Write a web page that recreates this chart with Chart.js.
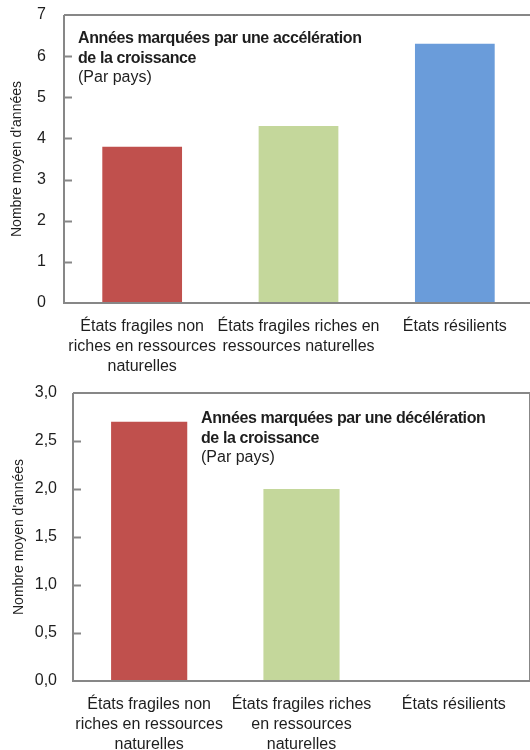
<!DOCTYPE html>
<html lang="fr">
<head>
<meta charset="utf-8">
<title>Accélération / décélération de la croissance</title>
<script src="https://cdn.jsdelivr.net/npm/chart.js@4/dist/chart.umd.min.js"></script>
<style>
  html, body { margin: 0; padding: 0; background: #fff; }
  body { width: 530px; height: 750px; overflow: hidden; position: relative; }
  .panel { position: absolute; left: 0; width: 540px; }
  #top { top: 0; height: 375px; }
  #bottom { top: 375px; height: 385px; }
</style>
</head>
<body>
<div class="panel" id="top"><canvas id="accelChart"></canvas></div>
<div class="panel" id="bottom"><canvas id="decelChart"></canvas></div>

<script>
// data
const accelCategories = [
  ['États fragiles non', 'riches en ressources', 'naturelles'],
  ['États fragiles riches en', 'ressources naturelles'],
  ['États résilients']
];
const decelCategories = [
  ['États fragiles non', 'riches en ressources', 'naturelles'],
  ['États fragiles riches', 'en ressources', 'naturelles'],
  ['États résilients']
];
const accelValues = [3.8, 4.3, 6.3];
const decelValues = [2.7, 2.0, 0];
const accelTitle = ['Années marquées par une accélération', 'de la croissance'];
const decelTitle = ['Années marquées par une décélération', 'de la croissance'];
const subTitle = '(Par pays)';
const yAxisTitle = "Nombre moyen d'années";
const accelRange = { max: 7, step: 1 };
const decelRange = { max: 3, step: 0.5 };

const barColors = ['#C0504D', '#C4D79B', '#6A9CDA'];
const axisGray = '#878787';
const textColor = '#1e1e1e';
const family = "'Liberation Sans', Arial, Helvetica, sans-serif";

// gray frame round the plot + short tick marks pointing inwards
const frameTicks = {
  id: 'frameTicks',
  afterDatasetsDraw(chart, args, opts) {
    const { ctx, chartArea: a } = chart;
    const y = chart.scales.y;
    ctx.save();
    ctx.strokeStyle = axisGray;
    ctx.lineWidth = 2;
    ctx.beginPath();
    ctx.moveTo(a.left, a.top);
    ctx.lineTo(a.left, a.bottom);
    ctx.lineTo(a.right, a.bottom);
    if (opts.right) ctx.lineTo(a.right, a.top); else ctx.moveTo(a.right, a.top);
    ctx.lineTo(a.left, a.top);
    ctx.stroke();
    y.ticks.forEach((t, i) => {
      if (i === 0 || i === y.ticks.length - 1) return;
      const py = Math.round(y.getPixelForValue(t.value)) + 0.5;
      ctx.beginPath();
      ctx.moveTo(a.left, py);
      ctx.lineTo(a.left + 8, py);
      ctx.stroke();
    });
    ctx.restore();
  }
};

// note written inside the plot area
const panelNote = {
  id: 'panelNote',
  afterDraw(chart, args, opts) {
    const { ctx, chartArea: a } = chart;
    ctx.save();
    ctx.fillStyle = textColor;
    ctx.textBaseline = 'alphabetic';
    ctx.textAlign = 'left';
    let y = a.top + opts.dy;
    ctx.font = 'bold 16px ' + family;
    ctx.letterSpacing = '-0.4px';
    opts.lines.forEach(l => { ctx.fillText(l, a.left + opts.dx, y); y += 19.5; });
    ctx.font = '16px ' + family;
    ctx.letterSpacing = '0px';
    ctx.fillText(opts.sub, a.left + opts.dx, y);
    ctx.restore();
  }
};

function noPad(s) {
  s.paddingTop = 0; s.paddingBottom = 0; s.paddingLeft = 0; s.paddingRight = 0;
}

function makeChart(id, labels, values, range, fmt, box, note) {
  return new Chart(document.getElementById(id), {
    type: 'bar',
    data: {
      labels: labels,
      datasets: [{
        data: values,
        backgroundColor: barColors,
        borderWidth: 0,
        categoryPercentage: 1,
        barPercentage: box.bar
      }]
    },
    options: {
      responsive: true,
      maintainAspectRatio: false,
      animation: false,
      layout: { padding: { top: box.top, right: box.right, left: 0, bottom: 0 } },
      plugins: {
        legend: { display: false },
        tooltip: { enabled: false },
        panelNote: note,
        frameTicks: { right: box.frameRight }
      },
      scales: {
        x: {
          grid: { display: false, drawTicks: false },
          border: { display: false },
          ticks: {
            color: textColor,
            font: { family: family, size: 16, lineHeight: 1.25 },
            padding: 14,
            maxRotation: 0,
            autoSkip: false
          },
          afterFit(s) { s.height = box.xHeight; noPad(s); }
        },
        y: {
          min: 0,
          max: range.max,
          grid: { display: false, drawTicks: false },
          border: { display: false },
          ticks: {
            stepSize: range.step,
            color: textColor,
            font: { family: family, size: 16 },
            padding: box.tickPad,
            callback: fmt
          },
          title: {
            display: true,
            text: yAxisTitle,
            color: textColor,
            font: { family: family, size: 14 },
            padding: { top: box.titlePad, bottom: 0 }
          },
          afterFit(s) { s.width = box.yWidth; noPad(s); }
        }
      }
    },
    plugins: [frameTicks, panelNote]
  });
}

makeChart('accelChart', accelCategories, accelValues, accelRange,
  v => String(v),
  { top: 15, right: 7, yWidth: 64, xHeight: 72, tickPad: 18, titlePad: 9, bar: 0.51, frameRight: false },
  { lines: accelTitle, sub: subTitle, dx: 14, dy: 28 });

makeChart('decelChart', decelCategories, decelValues, decelRange,
  v => v.toFixed(1).replace('.', ','),
  { top: 18, right: 10, yWidth: 73, xHeight: 79, tickPad: 16, titlePad: 11, bar: 0.5, frameRight: true },
  { lines: decelTitle, sub: subTitle, dx: 128, dy: 30 });
</script>
</body>
</html>
